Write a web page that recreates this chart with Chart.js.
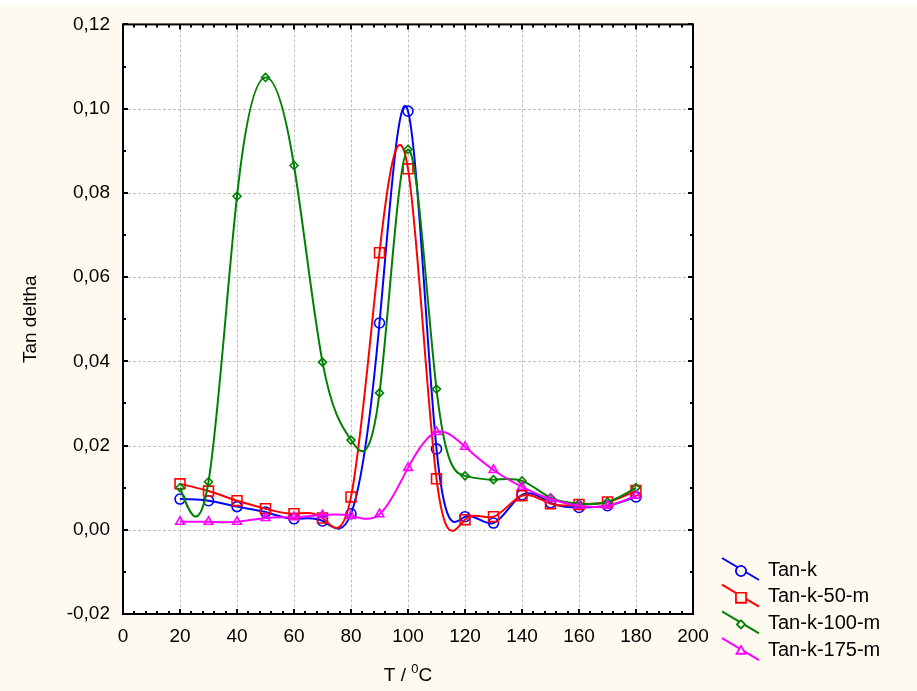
<!DOCTYPE html>
<html>
<head>
<meta charset="utf-8">
<script src="https://cdn.jsdelivr.net/npm/chart.js@4/dist/chart.umd.min.js"></script>
<style>
  html, body { margin: 0; padding: 0; background: #fefaf0; }
  #wrap { position: relative; width: 917px; height: 691px; }
</style>
</head>
<body>
<div id="wrap"><canvas id="tanChart" width="917" height="691"></canvas></div>
<script>
'use strict';

// Data

const temps = [20, 30, 40, 50, 60, 70, 80, 90, 100, 110, 120, 130, 140, 150, 160, 170, 180];
const tanK = [0.0073, 0.0069, 0.0055, 0.0042, 0.0026, 0.0021, 0.0038, 0.0491, 0.0994, 0.0192, 0.0031, 0.0016, 0.0083, 0.0064, 0.0053, 0.0057, 0.0078];
const tanK50 = [0.0109, 0.0092, 0.0069, 0.0050, 0.0038, 0.0028, 0.0078, 0.0658, 0.0857, 0.0121, 0.0024, 0.0031, 0.0081, 0.0062, 0.0060, 0.0066, 0.0093];
const tanK100 = [0.0100, 0.0114, 0.0792, 0.1074, 0.0865, 0.0398, 0.0213, 0.0325, 0.0903, 0.0334, 0.0128, 0.0119, 0.0116, 0.0076, 0.0062, 0.0066, 0.0100];
const tanK175 = [0.0019, 0.0019, 0.0019, 0.0028, 0.0030, 0.0035, 0.0033, 0.0037, 0.0147, 0.0232, 0.0197, 0.0142, 0.0102, 0.0073, 0.0057, 0.0057, 0.0081];

const seriesNames = ['Tan-k', 'Tan-k-50-m', 'Tan-k-100-m', 'Tan-k-175-m'];
const seriesColors = ['#0000ff', '#ff0000', '#008000', '#ff00ff'];
const seriesMarkers = ['circle', 'rect', 'rectRot', 'triangle'];
const markerSizes = [5, 7, 4, 5];

const xTitle = 'T / ';
const yTitle = 'Tan deltha';
const FONT = '"Liberation Sans", Arial, sans-serif';
const BG = '#fefaf0';

// Build datasets

function makeSet(i, values) {
    return {
        label: seriesNames[i],
        data: temps.map((t, k) => ({x: t, y: values[k]})),
        borderColor: seriesColors[i],
        borderWidth: 2,
        backgroundColor: 'rgba(0,0,0,0)',
        pointStyle: seriesMarkers[i],
        pointRadius: markerSizes[i],
        pointBorderColor: seriesColors[i],
        pointBorderWidth: 1.6,
        pointBackgroundColor: 'rgba(0,0,0,0)',
        tension: 0.4,
        order: 3 - i
    };
}

let datasets = [
    makeSet(0, tanK),
    makeSet(1, tanK50),
    makeSet(2, tanK100),
    makeSet(3, tanK175)
];

// Natural cubic spline slopes through pixel points

function splineSlopes(px, py) {
    let n = px.length;
    let h = [];
    for (let i = 0; i < n - 1; i++) h.push(px[i + 1] - px[i]);
    let m = new Array(n).fill(0);
    let a = [], b = [], c = [], r = [];
    for (let i = 1; i < n - 1; i++) {
        a.push(h[i - 1]);
        b.push(2 * (h[i - 1] + h[i]));
        c.push(h[i]);
        r.push(6 * ((py[i + 1] - py[i]) / h[i] - (py[i] - py[i - 1]) / h[i - 1]));
    }
    // Thomas algorithm
    let k = b.length;
    for (let i = 1; i < k; i++) {
        let w = a[i] / b[i - 1];
        b[i] -= w * c[i - 1];
        r[i] -= w * r[i - 1];
    }
    for (let i = k - 1; i >= 0; i--) {
        let next = i < k - 1 ? m[i + 2] : 0;
        m[i + 1] = (r[i] - c[i] * next) / b[i];
    }
    let d = [];
    for (let i = 0; i < n - 1; i++) {
        d.push((py[i + 1] - py[i]) / h[i] - h[i] * (2 * m[i] + m[i + 1]) / 6);
    }
    d.push((py[n - 1] - py[n - 2]) / h[n - 2] + h[n - 2] * (m[n - 2] + 2 * m[n - 1]) / 6);
    return d;
}

const splinePlugin = {
    id: 'spline',
    beforeDatasetsDraw(chart) {
        chart.getSortedVisibleDatasetMetas().forEach((meta) => {
            let pts = meta.data;
            let xs = pts.map((p) => p.x);
            let ys = pts.map((p) => p.y);
            let d = splineSlopes(xs, ys);
            for (let i = 0; i < pts.length; i++) {
                let hPrev = i > 0 ? xs[i] - xs[i - 1] : 0;
                let hNext = i < pts.length - 1 ? xs[i + 1] - xs[i] : 0;
                pts[i].cp1x = xs[i] - hPrev / 3;
                pts[i].cp1y = ys[i] - d[i] * hPrev / 3;
                pts[i].cp2x = xs[i] + hNext / 3;
                pts[i].cp2y = ys[i] + d[i] * hNext / 3;
            }
            meta.dataset._pointsUpdated = true;
            delete meta.dataset._path;
        });
    }
};

// Background, grid, frame, inward tick marks, titles and legend

const decorPlugin = {
    id: 'decor',
    beforeDraw(chart) {
        let ctx = chart.ctx;
        let a = chart.chartArea;
        let xs = chart.scales.x;
        let ys = chart.scales.y;
        ctx.save();
        ctx.fillStyle = BG;
        ctx.fillRect(0, 0, chart.width, chart.height);
        ctx.fillStyle = '#ffffff';
        ctx.fillRect(0, 0, chart.width, 5);
        ctx.fillRect(a.left, a.top, a.right - a.left, a.bottom - a.top);

        // dashed grid
        ctx.strokeStyle = '#c0c0c0';
        ctx.lineWidth = 1;
        ctx.setLineDash([3, 2]);
        ctx.beginPath();
        for (let v = 20; v < 200; v += 20) {
            let px = Math.round(xs.getPixelForValue(v)) + 0.5;
            ctx.moveTo(px, a.top);
            ctx.lineTo(px, a.bottom);
        }
        for (let k = 0; k < 7; k++) {
            let py = Math.round(ys.getPixelForValue(k * 0.02)) + 0.5;
            ctx.moveTo(a.left, py);
            ctx.lineTo(a.right, py);
        }
        ctx.stroke();
        ctx.restore();
    },
    afterDraw(chart) {
        let ctx = chart.ctx;
        let a = chart.chartArea;
        let xs = chart.scales.x;
        let ys = chart.scales.y;
        ctx.save();

        // tick marks on all four sides
        ctx.strokeStyle = '#000';
        ctx.lineWidth = 2;
        ctx.beginPath();
        for (let v = 0; v <= 200; v += 4) {
            let px = Math.round(xs.getPixelForValue(v));
            let len = v % 20 === 0 ? 5 : 3;
            ctx.moveTo(px, a.bottom);
            ctx.lineTo(px, a.bottom - len);
            ctx.moveTo(px, a.top);
            ctx.lineTo(px, a.top + len);
        }
        for (let k = -2; k <= 12; k++) {
            let py = Math.round(ys.getPixelForValue(k / 100));
            let len = k % 2 === 0 ? 5 : 3;
            ctx.moveTo(a.left, py);
            ctx.lineTo(a.left + len, py);
            ctx.moveTo(a.right, py);
            ctx.lineTo(a.right - len, py);
        }
        ctx.stroke();

        // frame
        ctx.strokeRect(a.left, a.top, a.right - a.left, a.bottom - a.top);

        // axis titles
        ctx.fillStyle = '#000';
        ctx.textBaseline = 'middle';
        let midX = (a.left + a.right) / 2;
        ctx.font = '19px ' + FONT;
        let w1 = ctx.measureText(xTitle).width;
        let w3 = ctx.measureText('C').width;
        ctx.font = '13px ' + FONT;
        let w2 = ctx.measureText('0').width;
        let startX = midX - (w1 + w2 + w3) / 2;
        ctx.textAlign = 'left';
        ctx.font = '19px ' + FONT;
        ctx.fillText(xTitle, startX, 676);
        ctx.fillText('C', startX + w1 + w2, 676);
        ctx.font = '13px ' + FONT;
        ctx.fillText('0', startX + w1, 669);

        ctx.save();
        ctx.translate(31, (a.top + a.bottom) / 2);
        ctx.rotate(-Math.PI / 2);
        ctx.textAlign = 'center';
        ctx.font = '19px ' + FONT;
        ctx.fillText(yTitle, 0, 0);
        ctx.restore();

        // legend with slanted line samples
        for (let i = 0; i < seriesNames.length; i++) {
            let cy = 570 + i * 26.7;
            ctx.strokeStyle = seriesColors[i];
            ctx.lineWidth = 2;
            ctx.beginPath();
            ctx.moveTo(722, cy - 12);
            ctx.lineTo(759, cy + 10);
            ctx.stroke();
            ctx.lineWidth = 1.6;
            Chart.helpers.drawPoint(ctx, {
                pointStyle: seriesMarkers[i],
                radius: markerSizes[i],
                rotation: 0,
                borderWidth: 1.6
            }, 741, cy + 1);
            ctx.fillStyle = BG;
            ctx.fill();
            ctx.stroke();
            ctx.fillStyle = '#000';
            ctx.font = '20px ' + FONT;
            ctx.textAlign = 'left';
            ctx.textBaseline = 'middle';
            ctx.fillText(seriesNames[i], 768, cy);
        }
        ctx.restore();
    }
};

function commaLabel(v) {
    if (Math.abs(v) < 1e-9) v = 0;
    return v.toFixed(2).replace('.', ',');
}

// Chart

let tanChart = new Chart(document.getElementById('tanChart').getContext('2d'), {
    type: 'line',
    data: {datasets: datasets},
    plugins: [decorPlugin, splinePlugin],
    options: {
        responsive: false,
        animation: false,
        layout: {padding: {left: 0, top: 23, right: 224, bottom: 0}},
        plugins: {
            legend: {display: false},
            tooltip: {enabled: false}
        },
        elements: {line: {capBezierPoints: false}},
        scales: {
            x: {
                type: 'linear',
                min: 0,
                max: 200,
                afterFit: (s) => { s.height = 77; },
                border: {display: false},
                grid: {display: false, drawTicks: false},
                ticks: {
                    stepSize: 20,
                    padding: 11,
                    color: '#000',
                    font: {family: FONT, size: 19}
                }
            },
            y: {
                min: -0.02,
                max: 0.12,
                afterFit: (s) => { s.width = 123; },
                border: {display: false},
                grid: {display: false, drawTicks: false},
                ticks: {
                    stepSize: 0.02,
                    padding: 13,
                    color: '#000',
                    font: {family: FONT, size: 19},
                    callback: commaLabel
                }
            }
        }
    }
});
</script>
</body>
</html>
